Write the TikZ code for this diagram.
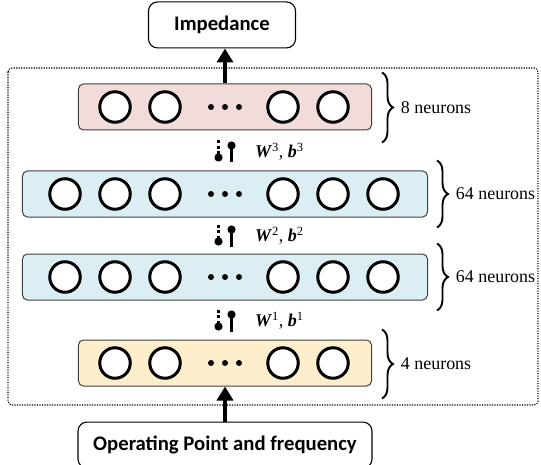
\documentclass[tikz,border=0pt]{standalone}
\usepackage{fontspec}
\setmainfont{Liberation Serif}
\newfontfamily\boxfont{Carlito}
\usetikzlibrary{positioning,arrows.meta,decorations.pathreplacing}

\definecolor{outfill}{HTML}{F2DCDB}
\definecolor{hidfill}{HTML}{DAEEF3}
\definecolor{infill}{HTML}{FDEFCB}

\tikzset{
  io/.style={draw, line width=1.1bp, rounded corners=9bp, minimum height=46bp,
    font=\boxfont\bfseries\fontsize{20.8}{24}\selectfont},
  layer/.style={draw=black!75, line width=1bp, rounded corners=5bp, minimum height=46bp},
  neuron/.style={circle, draw, line width=3bp, fill=white, minimum size=30.5bp, inner sep=0},
  feed/.style={line width=3.8bp, -{Triangle[length=14bp,width=16bp]}},
  brace/.style={decorate, decoration={brace, amplitude=11bp}, line width=1.9bp},
  sizelabel/.style={font=\fontsize{18}{20}\selectfont, inner sep=0},
  wdash/.style={line width=2.4bp, dash pattern=on 3bp off 2.5bp, -{Circle[length=8bp]}},
  wsolid/.style={line width=2.4bp, {Circle[length=8bp]}-},
  wtext/.style={font=\fontsize{18}{20}\selectfont, inner sep=0},
  netframe/.style={line width=1.1bp, dash pattern=on 1.2bp off 1.3bp, rounded corners=4bp},
}

\begin{document}
\begin{tikzpicture}[x=1bp,y=-1bp]
   \useasboundingbox (0,0) rectangle (541,465);
   \draw[netframe] (8,68) rectangle (538,405);

   % layers
   \node[layer, fill=outfill, minimum width=293bp]                    (L8)   at (225,107) {};
   \node[layer, fill=hidfill, minimum width=405bp, below=40bp of L8]   (L64b) {};
   \node[layer, fill=hidfill, minimum width=405bp, below=36bp of L64b] (L64a) {};
   \node[layer, fill=infill,  minimum width=293bp, below=39bp of L64a] (L4)   {};

   \node[io, minimum width=147bp, above=35bp of L8, xshift=-3bp] (Z) {Impedance};
   \node[io, minimum width=294bp, below=35bp of L4]              (U) {Operating Point and frequency};

   % neurons
   \foreach \dx [count=\i] in {-110,-60,58,108} {
     \node[neuron] (L8-\i) at ([xshift=\dx bp]L8.center) {};
     \node[neuron] (L4-\i) at ([xshift=\dx bp]L4.center) {};
   }
   \foreach \dx [count=\i] in {-160,-110,-60,58,108,158} {
     \node[neuron] (L64b-\i) at ([xshift=\dx bp]L64b.center) {};
     \node[neuron] (L64a-\i) at ([xshift=\dx bp]L64a.center) {};
   }
   \foreach \L in {L8,L64b,L64a,L4}
     \foreach \dx in {-14,0,14}
       \fill ([xshift=\dx bp]\L.center) circle[radius=3bp];

   \draw[feed] (L8.north) -- (L8.north |- Z.south);
   \draw[feed] (U.north) -- (L4.south);

   % sizes
   \draw[brace] ([xshift=10bp,yshift=11bp]L8.north east) -- ([xshift=10bp,yshift=-12bp]L8.south east)
      node[sizelabel, midway, right=18bp] (n8) {8 neurons};
   \draw[brace] ([xshift=9bp,yshift=10bp]L64b.north east) -- ([xshift=9bp,yshift=-10bp]L64b.south east)
      node[sizelabel, midway, right=18bp] (n64b) {64 neurons};
   \draw[brace] ([xshift=9bp,yshift=10bp]L64a.north east) -- ([xshift=9bp,yshift=-10bp]L64a.south east)
      node[sizelabel, midway, right=18bp] (n64a) {64 neurons};
   \draw[brace] ([xshift=10bp,yshift=10bp]L4.north east) -- ([xshift=10bp,yshift=-12bp]L4.south east)
      node[sizelabel, midway, right=18bp] (n4) {4 neurons};

   % weights and biases
   \coordinate[below=21bp of L8]   (w3);
   \coordinate[below=18bp of L64b] (w2);
   \coordinate[below=20bp of L64a] (w1);
   \foreach \w/\k in {w3/3,w2/2,w1/1} {
     \draw[wdash]  ([xshift=-6.5bp,yshift=11bp]\w) -- ([xshift=-6.5bp,yshift=-10bp]\w);
     \draw[wsolid] ([xshift=6.5bp,yshift=10bp]\w) -- ([xshift=6.5bp,yshift=-11bp]\w);
     \node[wtext, right=30bp of \w] (t\k) {\textbf{\textit{W}}\textsuperscript{\k}, \textbf{\textit{b}}\textsuperscript{\k}};
   }
\end{tikzpicture}
\end{document}
